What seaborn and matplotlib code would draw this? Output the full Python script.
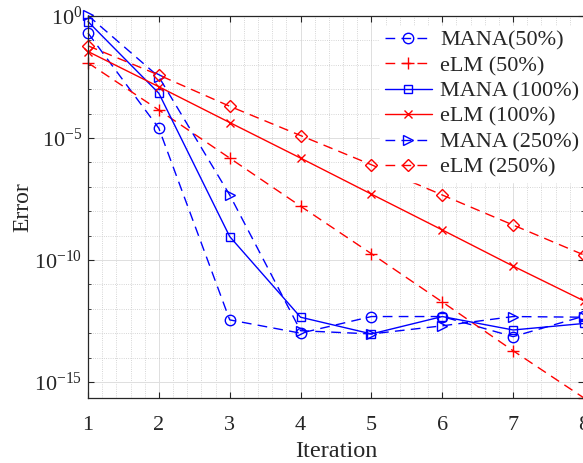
import matplotlib
matplotlib.use("Agg")
import matplotlib.pyplot as plt
import seaborn as sns
import pandas as pd
from matplotlib.ticker import NullFormatter

# values (log scale)
iteration = [1, 2, 3, 4, 5, 6, 7, 8]
mana_50 = [0.2, 2.5e-5, 3.5e-13, 1.0e-13, 4.8e-13, 4.8e-13, 7.2e-14, 5.0e-13]
elm_50 = [0.012, 1.4e-4, 1.5e-6, 1.6e-8, 1.8e-10, 1.9e-12, 1.9e-14, 2.2e-16]
mana_100 = [0.59, 6.8e-4, 9.1e-10, 4.5e-13, 9.3e-14, 4.8e-13, 1.35e-13, 2.5e-13]
elm_100 = [0.035, 1.26e-3, 4.3e-5, 1.5e-6, 5.0e-8, 1.7e-9, 5.6e-11, 2.1e-12]
mana_250 = [1.05, 3.2e-3, 4.6e-8, 1.26e-13, 9.3e-14, 2.0e-13, 4.8e-13, 4.5e-13]
elm_250 = [0.06, 3.8e-3, 2.0e-4, 1.26e-5, 8.0e-7, 4.6e-8, 2.7e-9, 1.6e-10]

series = [
    ("MANA(50%)", mana_50, "blue", "o", "--"),
    ("eLM (50%)", elm_50, "red", "+", "--"),
    ("MANA (100%)", mana_100, "blue", "s", "-"),
    ("eLM (100%)", elm_100, "red", "x", "-"),
    ("MANA (250%)", mana_250, "blue", ">", "--"),
    ("eLM (250%)", elm_250, "red", "D", "--"),
]
marker_sizes = {"o": 7.5, "+": 8, "s": 5.5, "x": 5.5, ">": 7, "D": 6}

sns.set_style("ticks")
plt.rcParams["font.family"] = ["Liberation Serif", "DejaVu Serif"]
plt.rcParams["mathtext.fontset"] = "custom"
plt.rcParams["mathtext.rm"] = "Liberation Serif"
plt.rcParams["mathtext.it"] = "Liberation Serif:italic"
plt.rcParams["axes.unicode_minus"] = False

fig = plt.figure(figsize=(5.83, 4.63), dpi=100)
ax = fig.add_axes([88 / 583, 65 / 463, 496 / 583, 382 / 463])

for name, vals, color, marker, ls in series:
    df = pd.DataFrame({"Iteration": iteration, "Error": vals})
    sns.lineplot(data=df, x="Iteration", y="Error", ax=ax, color=color,
                 marker=marker, markersize=marker_sizes[marker],
                 markerfacecolor="none", markeredgecolor=color,
                 markeredgewidth=1.0, linewidth=1.0, label=name,
                 clip_on=False)
    ln = ax.get_lines()[-1]
    if ls == "--":
        ln.set_dashes((7, 4.5))

ax.set_yscale("log")
ax.set_xlim(1, 8)
ax.set_ylim(2.2e-16, 1)
ax.set_xticks(iteration)
ax.set_xticks([1 + 0.2 * k for k in range(36)], minor=True)
ax.set_yticks([1e0, 1e-5, 1e-10, 1e-15])
ax.set_yticks([10.0 ** -k for k in range(16)], minor=True)
ax.yaxis.set_minor_formatter(NullFormatter())

ax.grid(True, which="major", color="#dedede", linewidth=0.7, linestyle="-")
ax.grid(True, which="minor", color="#c8c8c8", linewidth=0.6, linestyle=":")
ax.set_axisbelow(True)

for s in ax.spines.values():
    s.set_color("#262626")
    s.set_linewidth(0.9)
    s.set_visible(True)
ax.tick_params(which="both", direction="in", top=True, right=True,
               colors="#262626", labelsize=16)
ax.tick_params(which="major", length=4, width=0.8)
ax.tick_params(which="minor", length=2, width=0.6)
ax.tick_params(axis="x", which="major", pad=13)
ax.tick_params(axis="y", which="major", pad=4)
ax.tick_params(axis="x", which="minor", length=0)

ax.set_xlabel("Iteration", fontsize=17.5, labelpad=4)
ax.set_ylabel("Error", fontsize=17, labelpad=1)

leg = ax.legend(loc="upper right", bbox_to_anchor=(1.0, 0.975), fontsize=16,
                frameon=True, framealpha=1, facecolor="white", edgecolor="white",
                fancybox=False, handlelength=2.1, handletextpad=0.4,
                labelspacing=0.22, borderpad=0.2, borderaxespad=0.0)

fig.savefig("out.png", dpi=100)
